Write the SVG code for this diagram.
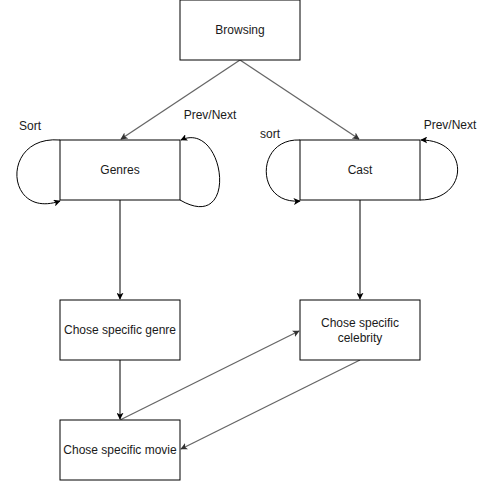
<svg xmlns="http://www.w3.org/2000/svg" width="481" height="481" viewBox="0 0 481 481">
<defs>
<marker id="ah" viewBox="0 0 10 10" refX="9" refY="5" markerWidth="7" markerHeight="7" markerUnits="userSpaceOnUse" orient="auto">
<path d="M0,0 L10,5 L0,10 L2.5,5 Z" fill="#000"/>
</marker>
<marker id="ahg" viewBox="0 0 10 10" refX="9" refY="5" markerWidth="7" markerHeight="7" markerUnits="userSpaceOnUse" orient="auto">
<path d="M0,0 L10,5 L0,10 L2.5,5 Z" fill="#333"/>
</marker>
<style>
.box{fill:#fff;stroke:#000;stroke-width:1}
.t{font-family:"Liberation Sans",Arial,sans-serif;font-size:12px;fill:#1a1a1a;text-anchor:middle;dominant-baseline:central}
.e{fill:none;stroke:#000;stroke-width:1;marker-end:url(#ah)}
.g{fill:none;stroke:#666;stroke-width:1.3;marker-end:url(#ahg)}
</style>
</defs>
<rect width="481" height="481" fill="#fff"/>
<g id="connectors">
<line class="g" x1="240" y1="60" x2="121" y2="139"/>
<line class="g" x1="240" y1="60" x2="359" y2="139"/>
<line class="e" x1="120" y1="200" x2="120" y2="299"/>
<line class="e" x1="360" y1="200" x2="360" y2="299"/>
<line class="e" x1="120" y1="360" x2="120" y2="419"/>
<line class="g" x1="120" y1="420" x2="299" y2="331"/>
<line class="g" x1="360" y1="360" x2="181" y2="449"/>
<path class="e" d="M60,140 C0,135 5,220 60,201"/>
<path class="e" d="M180,200 C240,235 225,120 181,140"/>
<path class="e" d="M300,140 C255,138 255,205 300,201"/>
<path class="e" d="M420,200 C470,200 470,140 421,140"/>
<text class="t" x="30" y="126">Sort</text>
<text class="t" x="210" y="115">Prev/Next</text>
<text class="t" x="270" y="134">sort</text>
<text class="t" x="450" y="125">Prev/Next</text>
</g>
<g id="browsing"><rect class="box" x="180" y="0" width="120" height="60"/><text class="t" x="240" y="30">Browsing</text></g>
<g id="genres"><rect class="box" x="60" y="140" width="120" height="60"/><text class="t" x="120" y="170">Genres</text></g>
<g id="cast"><rect class="box" x="300" y="140" width="120" height="60"/><text class="t" x="360" y="170">Cast</text></g>
<g id="genre"><rect class="box" x="60" y="300" width="120" height="60"/><text class="t" x="120" y="330">Chose specific genre</text></g>
<g id="celebrity"><rect class="box" x="300" y="300" width="120" height="60"/><text class="t" x="360" y="323">Chose specific</text><text class="t" x="360" y="338">celebrity</text></g>
<g id="movie"><rect class="box" x="60" y="420" width="120" height="60"/><text class="t" x="120" y="450">Chose specific movie</text></g>
</svg>
